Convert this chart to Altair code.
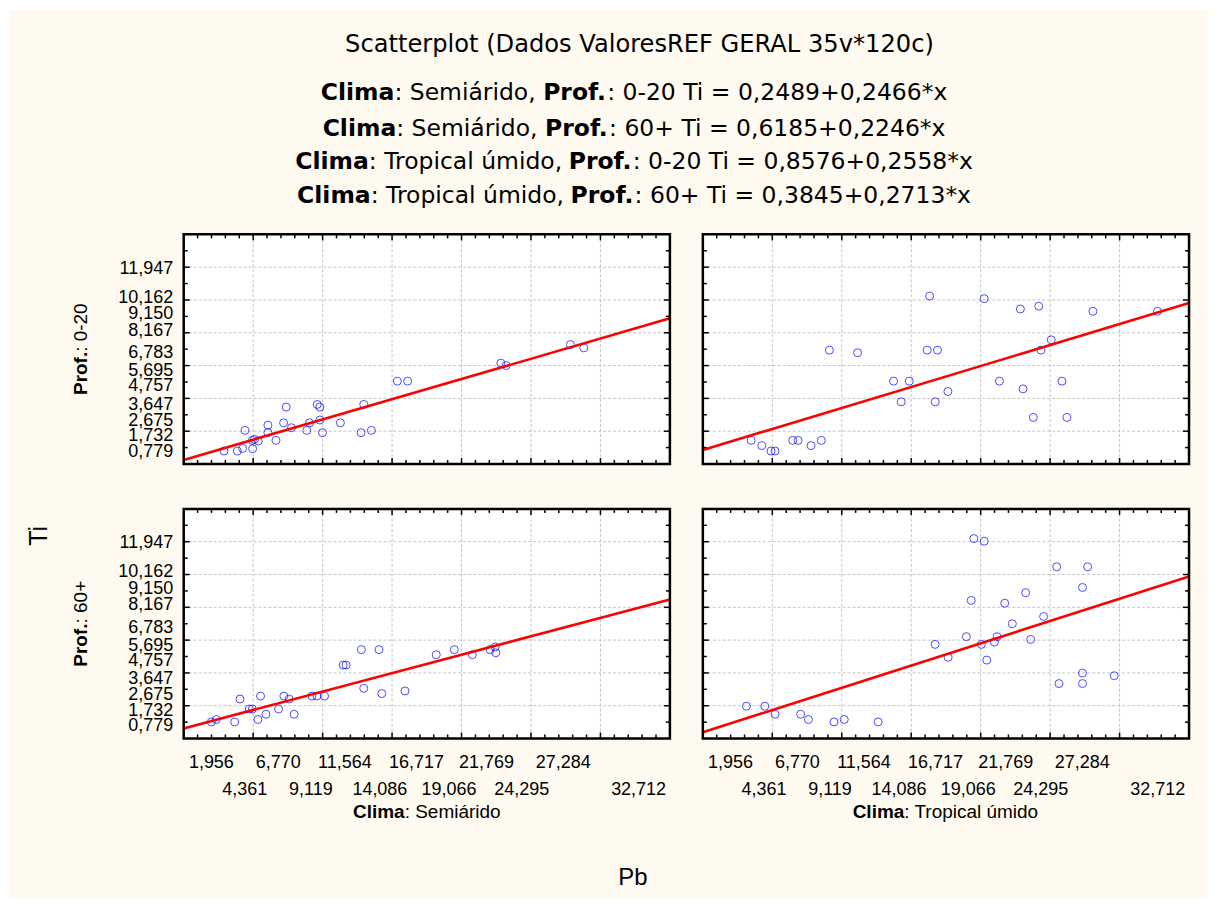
import altair as alt
import pandas as pd

# ---------------- data ----------------
sa020_pb = [2.90, 3.86, 4.24, 4.41, 4.94, 5.10, 4.96, 5.37, 6.06, 6.06, 6.64, 7.38, 7.19, 7.76, 8.86,
            9.06, 9.61, 9.80, 9.80, 9.99, 11.28, 12.77, 12.96, 13.51, 15.38, 16.12, 22.83, 23.21, 27.84, 28.80]
sa020_ti = [0.79, 0.79, 0.95, 2.05, 1.44, 1.50, 0.93, 1.40, 1.91, 2.37, 1.44, 3.47, 2.51, 2.21, 2.05,
            2.51, 3.63, 3.47, 2.68, 1.91, 2.51, 1.91, 3.63, 2.05, 5.05, 5.05, 6.15, 6.00, 7.28, 7.08]

tu020_pb = [3.48, 4.24, 4.91, 5.20, 6.47, 6.86, 7.79, 8.53, 9.11, 11.14, 13.73, 14.28, 14.86, 16.15, 16.32,
            16.73, 16.89, 17.64, 20.25, 21.35, 22.86, 23.05, 23.79, 24.18, 24.34, 25.08, 25.85, 26.21, 28.08, 32.73]
tu020_ti = [1.44, 1.12, 0.79, 0.79, 1.44, 1.44, 1.12, 1.44, 6.94, 6.78, 5.05, 3.79, 5.05, 6.94, 10.24,
            3.79, 6.94, 4.42, 10.08, 5.05, 9.45, 4.58, 2.84, 9.62, 6.94, 7.57, 5.05, 2.84, 9.31, 9.31]

sa60_pb = [1.99, 2.35, 3.67, 4.05, 4.72, 4.94, 5.34, 5.53, 5.92, 6.83, 7.21, 7.59, 7.95, 9.23, 9.59,
           10.14, 11.48, 11.69, 12.79, 12.96, 14.06, 14.26, 15.93, 18.18, 19.48, 20.78, 22.06, 22.42, 22.47]
sa60_ti = [1.01, 1.16, 1.01, 2.41, 1.80, 1.80, 1.16, 2.59, 1.48, 1.80, 2.59, 2.41, 1.48, 2.59, 2.59,
           2.59, 4.48, 4.48, 5.42, 3.06, 5.42, 2.74, 2.90, 5.11, 5.42, 5.11, 5.42, 5.58, 5.23]

tu60_pb = [3.14, 4.46, 5.20, 7.04, 7.60, 9.44, 10.18, 12.62, 16.72, 17.66, 18.97, 19.32, 19.51, 20.05, 20.25,
           20.44, 20.99, 21.18, 21.73, 22.28, 23.24, 23.60, 24.53, 25.47, 25.64, 27.33, 27.33, 27.33, 27.70, 29.61]
tu60_ti = [1.97, 1.97, 1.48, 1.48, 1.16, 1.01, 1.16, 1.01, 5.74, 4.95, 6.21, 8.42, 12.19, 5.74, 12.03,
           4.78, 5.88, 6.21, 8.25, 7.00, 8.89, 6.04, 7.44, 10.47, 3.35, 9.21, 3.99, 3.35, 10.47, 3.83]

climas = ["Semiárido", "Semiárido", "Tropical úmido", "Tropical úmido"]
profs = ["0-20", "60+", "0-20", "60+"]
intercepts = [0.2489, 0.6185, 0.8576, 0.3845]
slopes = [0.2466, 0.2246, 0.2558, 0.2713]

x_label_values = [1.956, 4.361, 6.770, 9.119, 11.564, 14.086, 16.717, 19.066, 21.769, 24.295, 27.284, 32.712]
x_label_row2 = [4.361, 9.119, 14.086, 19.066, 24.295, 32.712]
y_label_values = [0.779, 1.732, 2.675, 3.647, 4.757, 5.695, 6.783, 8.167, 9.150, 10.162, 11.947]

x_domain = [0, 35]
y_domain = [0, 14]
x_grid = [5, 10, 15, 20, 25, 30]
y_grid = [2, 4, 6, 8, 10, 12]
x_minor = [v for v in range(1, 35) if v % 5 != 0]
y_minor = [v for v in range(1, 14) if v % 2 != 0]

title_text = "Scatterplot (Dados ValoresREF GERAL 35v*120c)"

# ---------------- layout constants ----------------
W, H = 487, 230
OX, OY = 183, 233          # page position of the top-left plot area
CREAM = "#FFFAF0"
ONE = alt.Data(values=[{"k": 0}])

# approximate advance widths (em) for placing mixed bold / regular runs
DV = {' ': .318, ':': .337, ',': .318, 'S': .635, 'e': .615, 'm': .974, 'i': .278, 'á': .613, 'r': .411,
      'd': .635, 'o': .612, 'T': .611, 'p': .635, 'c': .550, 'a': .613, 'l': .278, 'ú': .634, '-': .361,
      '+': .838, '=': .838, '*': .500, 'x': .592, 'u': .634, 'n': .634}
DVB = {'C': .734, 'l': .343, 'i': .343, 'm': 1.042, 'a': .675, 'P': .733, 'r': .493, 'o': .687, 'f': .435, '.': .381}
AR = {' ': .278, ':': .278, ',': .278, 'S': .667, 'e': .556, 'm': .833, 'i': .222, 'á': .556, 'r': .333,
      'd': .556, 'o': .556, 'T': .611, 'p': .556, 'c': .5, 'a': .556, 'l': .222, 'ú': .556, '-': .333, '+': .584}
ARB = {'C': .722, 'l': .278, 'i': .278, 'm': .889, 'a': .556, 'P': .667, 'r': .389, 'o': .611, 'f': .333, '.': .278}
for d in "0123456789":
    DV[d] = .636
    AR[d] = .556
KERN = {"Tr": -0.21}


def tw(s, table, size):
    w = sum(table.get(ch, 0.6) for ch in s)
    w += sum(KERN.get(s[i:i + 2], 0) for i in range(len(s) - 1)) if table is DV else 0
    return w * size


def fmt(v):
    return f"{v:.4f}".replace(".", ",")


LBL = "replace(format(datum.value, '.3f'), '.', ',')"
ROW2 = "[" + ",".join(str(v) for v in x_label_row2) + "]"


def xenc(field, show):
    if show:
        axis = alt.Axis(values=x_label_values, labelExpr=f"indexof({ROW2}, datum.value) >= 0 ? ['', {LBL}] : {LBL}",
                        title=None, ticks=False, tickSize=0, domain=False, grid=False,
                        labelFont="Liberation Sans", labelFontSize=18, labelColor="black",
                        labelPadding=15, labelLineHeight=27, labelOverlap=False, labelFlush=False,
                        labelBound=False, labelBaseline="top", labelAlign="center", zindex=1)
        return alt.X(f"{field}:Q", scale=alt.Scale(domain=x_domain, nice=False, zero=False), axis=axis)
    return alt.X(f"{field}:Q", scale=alt.Scale(domain=x_domain, nice=False, zero=False), axis=None)


def yenc(field, show):
    if show:
        axis = alt.Axis(values=y_label_values, labelExpr=LBL, title=None, ticks=False, tickSize=0,
                        domain=False, grid=False, labelFont="Liberation Sans", labelFontSize=18,
                        labelColor="black", labelPadding=11, labelOverlap=False, labelFlush=False,
                        labelBound=False, labelBaseline="middle", labelAlign="right", zindex=1)
        return alt.Y(f"{field}:Q", scale=alt.Scale(domain=y_domain, nice=False, zero=False), axis=axis)
    return alt.Y(f"{field}:Q", scale=alt.Scale(domain=y_domain, nice=False, zero=False), axis=None)


def txt(s, x, y, size, font, bold=False, align="left", angle=0, baseline="alphabetic"):
    return alt.Chart(ONE).mark_text(text=s, font=font, fontSize=size, fontWeight="bold" if bold else "normal",
                                    align=align, baseline=baseline, angle=angle, color="black").encode(
        x=alt.value(x), y=alt.value(y))


def panel(pb, ti, a, b, show_x, show_y, back=None, front=None):
    pts = pd.DataFrame({"Pb": pb, "Ti": ti})
    fit = pd.DataFrame({"Pb": x_domain, "Ti": [a + b * x for x in x_domain]})
    layers = list(back or [])
    layers.append(alt.Chart(ONE).mark_rect(fill="white").encode(
        x=alt.value(0), x2=alt.value(W), y=alt.value(0), y2=alt.value(H)))
    gridc = "#C4C4C4"
    layers.append(alt.Chart(pd.DataFrame({"v": x_grid})).mark_rule(color=gridc, strokeDash=[3, 2], strokeWidth=1).encode(
        x=xenc("v", show_x), y=alt.value(0), y2=alt.value(H)))
    layers.append(alt.Chart(pd.DataFrame({"v": y_grid})).mark_rule(color=gridc, strokeDash=[3, 2], strokeWidth=1).encode(
        y=yenc("v", show_y), x=alt.value(0), x2=alt.value(W)))
    # inward tick marks on all four sides
    for vals, ln in ((x_grid, 6), (x_minor, 4)):
        d = pd.DataFrame({"v": vals})
        layers.append(alt.Chart(d).mark_rule(color="black", strokeWidth=1.5).encode(
            x=xenc("v", show_x), y=alt.value(H), y2=alt.value(H - ln)))
        layers.append(alt.Chart(d).mark_rule(color="black", strokeWidth=1.5).encode(
            x=xenc("v", show_x), y=alt.value(0), y2=alt.value(ln)))
    for vals, ln in ((y_grid, 6), (y_minor, 4)):
        d = pd.DataFrame({"v": vals})
        layers.append(alt.Chart(d).mark_rule(color="black", strokeWidth=1.5).encode(
            y=yenc("v", show_y), x=alt.value(0), x2=alt.value(ln)))
        layers.append(alt.Chart(d).mark_rule(color="black", strokeWidth=1.5).encode(
            y=yenc("v", show_y), x=alt.value(W), x2=alt.value(W - ln)))
    layers.append(alt.Chart(pts).mark_point(shape="circle", filled=False, color="#0000FF", size=64,
                                            strokeWidth=1).encode(x=xenc("Pb", show_x), y=yenc("Ti", show_y)))
    layers.append(alt.Chart(fit).mark_line(color="#FF0000", strokeWidth=2.6).encode(
        x=xenc("Pb", show_x), y=yenc("Ti", show_y)))
    layers.append(alt.Chart(ONE).mark_rect(fill="white", fillOpacity=0, stroke="black", strokeWidth=2.5).encode(
        x=alt.value(0), x2=alt.value(W), y=alt.value(0), y2=alt.value(H)))
    layers += list(front or [])
    return alt.layer(*layers).properties(width=W, height=H)


# ---------------- decorations (placed relative to the top-left plot area) ----------------
back = [alt.Chart(ONE).mark_rect(fill=CREAM).encode(
    x=alt.value(8 - OX), x2=alt.value(1209 - OX), y=alt.value(8 - OY), y2=alt.value(898 - OY))]

front = []
TF = "DejaVu Sans"
TS = 23.5
front.append(txt(title_text, 639.5 - OX, 50 - OY, 24.2, TF, align="center"))
baselines = [98.3, 134, 167.6, 201.6]
for i in range(4):
    segs = [("Clima", True), (f": {climas[i]}, ", False), ("Prof.", True),
            (f": {profs[i]} Ti = {fmt(intercepts[i])}+{fmt(slopes[i])}*x", False)]
    total = sum(tw(s, DVB if bb else DV, TS) for s, bb in segs)
    cx = 634.5 - total / 2
    for s, bb in segs:
        front.append(txt(s, cx - OX, baselines[i] - OY, TS, TF, bold=bb, align="left"))
        cx += tw(s, DVB if bb else DV, TS)

LF = "Liberation Sans"
# row labels (rotated)
RS = 19
for prof, cy in (("0-20", 348), ("60+", 623)):
    wb = tw("Prof.", ARB, RS)
    wn = tw(f": {prof}", AR, RS)
    anchor = cy + (wb + wn) / 2 - wb
    front.append(txt("Prof.", 80 - OX, anchor - OY, RS, LF, bold=True, align="right", angle=270, baseline="middle"))
    front.append(txt(f": {prof}", 80 - OX, anchor - OY, RS, LF, align="left", angle=270, baseline="middle"))

# column labels
for clima, cx in (("Semiárido", 426.5), ("Tropical úmido", 946.5)):
    wb = tw("Clima", ARB, RS)
    wn = tw(f": {clima}", AR, RS)
    anchor = cx - (wb + wn) / 2 + wb
    front.append(txt("Clima", anchor - OX, 812 - OY, RS, LF, bold=True, align="right", baseline="middle"))
    front.append(txt(f": {clima}", anchor - OX, 812 - OY, RS, LF, align="left", baseline="middle"))

# axis titles
front.append(txt("Ti", 38 - OX, 535 - OY, 25, LF, align="center", angle=270, baseline="middle"))
front.append(txt("Pb", 633 - OX, 878 - OY, 24, LF, align="center", baseline="middle"))

tl = panel(sa020_pb, sa020_ti, intercepts[0], slopes[0], False, True, back=back, front=front)
tr = panel(tu020_pb, tu020_ti, intercepts[2], slopes[2], False, False)
bl = panel(sa60_pb, sa60_ti, intercepts[1], slopes[1], True, True)
br = panel(tu60_pb, tu60_ti, intercepts[3], slopes[3], True, False)

chart = alt.concat(tl, tr, bl, br, columns=2, spacing={"row": 45, "column": 33}, bounds="flush").properties(
    padding=0, background="white").configure_view(stroke="transparent", fill="white")

chart.save("out.html", embed_options={"renderer": "svg", "actions": False})
